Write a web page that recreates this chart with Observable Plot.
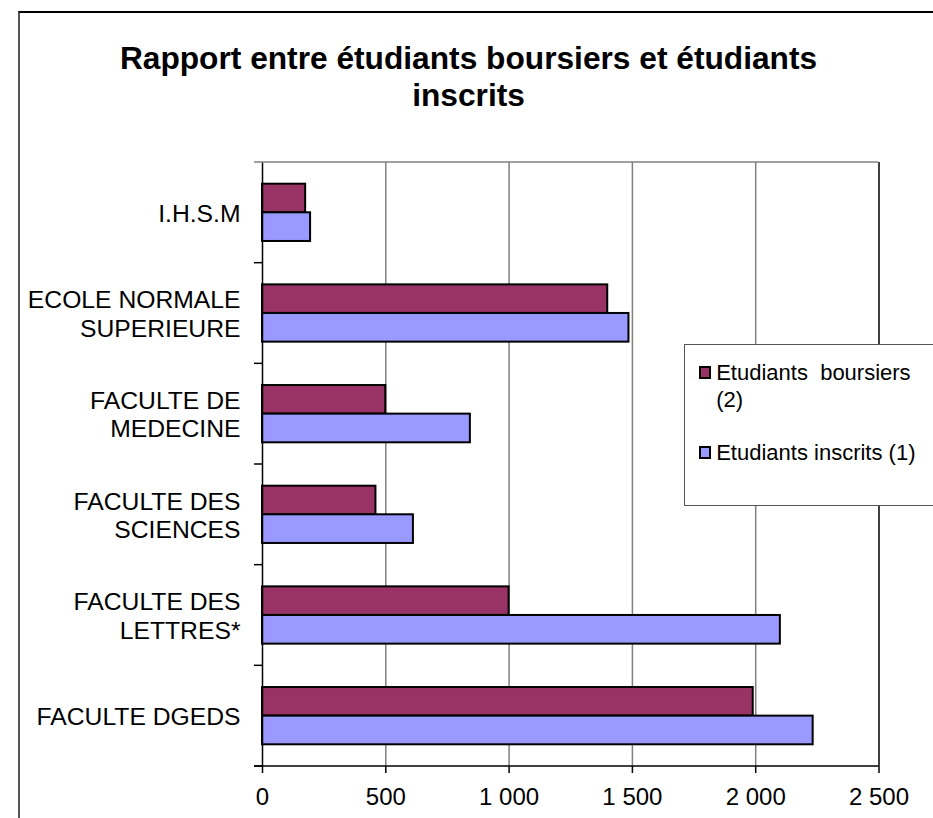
<!DOCTYPE html>
<html>
<head>
<meta charset="utf-8">
<script src="https://cdn.jsdelivr.net/npm/d3@7"></script>
<script src="https://cdn.jsdelivr.net/npm/@observablehq/plot@0.6"></script>
<style>
html, body { margin: 0; padding: 0; background: #fff; }
body { position: relative; width: 933px; height: 818px; overflow: hidden; font-family: "Liberation Sans", Arial, sans-serif; color: #000; }
#frame { position: absolute; left: 18px; top: 11px; width: 1000px; height: 900px; border-left: 2px solid #555; border-top: 2px solid #000; box-sizing: border-box; }
#title { position: absolute; left: 2px; top: 40px; width: 933px; text-align: center; font-weight: bold; font-size: 31.7px; line-height: 37px; }
#chart { position: absolute; left: 0; top: 130px; }
#legend { position: absolute; left: 684px; top: 344px; width: 262px; height: 162px; border: 1.5px solid #555; background: #fff; box-sizing: border-box; padding: 13.7px 0 0 13.5px; }
.item { position: relative; padding-left: 17.7px; width: 212px; font-size: 22px; line-height: 27px; white-space: pre-wrap; margin-bottom: 26px; }
.sw { position: absolute; left: 0; top: 7.5px; width: 12.5px; height: 12.5px; border: 2px solid #000; box-sizing: border-box; }
</style>
</head>
<body>
<div id="frame"></div>
<div id="title">Rapport entre étudiants boursiers et étudiants<br>inscrits</div>
<div id="chart"></div>
<div id="legend"></div>
<script>
const categories = ["I.H.S.M", "ECOLE NORMALE\nSUPERIEURE", "FACULTE DE\nMEDECINE", "FACULTE DES\nSCIENCES", "FACULTE DES\nLETTRES*", "FACULTE DGEDS"];
const boursiers = [175, 1400, 500, 460, 1000, 1990];
const inscrits = [195, 1486, 843, 612, 2100, 2233];
const seriesNames = ["Etudiants  boursiers (2)", "Etudiants inscrits (1)"];
const seriesColors = ["#993366", "#9999FF"];
const xTicks = [0, 500, 1000, 1500, 2000, 2500];

const dataB = categories.map((c, i) => ({category: c, series: seriesNames[0], value: boursiers[i]}));
const dataI = categories.map((c, i) => ({category: c, series: seriesNames[1], value: inscrits[i]}));

const locale = d3.formatLocale({decimal: ",", thousands: " ", grouping: [3], currency: ["", ""]});
const fmt = locale.format(",");
const xMax = xTicks[xTicks.length - 1];

function bandEdges(index, scales, values, dims) {
  const y = scales.y;
  const plotH = dims.height - dims.marginTop - dims.marginBottom;
  const bw = y.bandwidth ? y.bandwidth() : plotH / categories.length;
  const x0 = scales.x(0), x1 = scales.x(xMax);
  const edges = categories.map(c => y(c)).concat([y(categories[categories.length - 1]) + bw]);
  const g = d3.create("svg:g");
  g.append("line").attr("x1", x0).attr("x2", x1).attr("y1", edges[0]).attr("y2", edges[0])
    .attr("stroke", "#808080").attr("stroke-width", 1.5);
  g.selectAll("line.tk").data(edges).join("line").attr("class", "tk")
    .attr("x1", x0 - 8).attr("x2", x0).attr("y1", d => d).attr("y2", d => d)
    .attr("stroke", (d, i) => i === 0 ? "#808080" : "#000").attr("stroke-width", 1.5);
  g.append("line").attr("x1", x0 - 8).attr("x2", x1).attr("y1", edges[edges.length - 1]).attr("y2", edges[edges.length - 1])
    .attr("stroke", "#000").attr("stroke-width", 1.5);
  return g.node();
}

const plot = Plot.plot({
  width: 933,
  height: 688,
  marginLeft: 262,
  marginRight: 54.5,
  marginTop: 32,
  marginBottom: 52,
  style: {fontFamily: "'Liberation Sans', Arial, sans-serif", fontSize: "24px", color: "#000", background: "transparent", overflow: "visible"},
  x: {domain: [0, xMax], label: null},
  y: {domain: categories, padding: 0, round: false, label: null},
  color: {domain: seriesNames, range: seriesColors},
  marks: [
    Plot.ruleX(xTicks.slice(1, -1), {stroke: "#808080", strokeWidth: 1.5}),
    Plot.ruleX([xMax], {stroke: "#000", strokeWidth: 1.5}),
    Plot.barX(dataB, {x: "value", y: "category", fill: "series", stroke: "#000", strokeWidth: 2, insetTop: 21.7, insetBottom: 50.4}),
    Plot.barX(dataI, {x: "value", y: "category", fill: "series", stroke: "#000", strokeWidth: 2, insetTop: 50.3, insetBottom: 21.7}),
    Plot.ruleX([0], {stroke: "#000", strokeWidth: 1.5}),
    bandEdges,
    Plot.axisX({ticks: xTicks, tickFormat: fmt, tickSize: 7, tickPadding: 14, fontSize: 24, stroke: "#000", strokeWidth: 1.5, label: null}),
    Plot.axisY({tickSize: 0, tickPadding: 22, fontSize: 24.7, lineHeight: 1.15, label: null})
  ]
});
document.getElementById("chart").appendChild(plot);

const legend = d3.select("#legend");
seriesNames.forEach((name, i) => {
  const it = legend.append("div").attr("class", "item");
  it.append("span").attr("class", "sw").style("background", seriesColors[i]);
  it.append("span").text(name);
});
</script>
</body>
</html>
